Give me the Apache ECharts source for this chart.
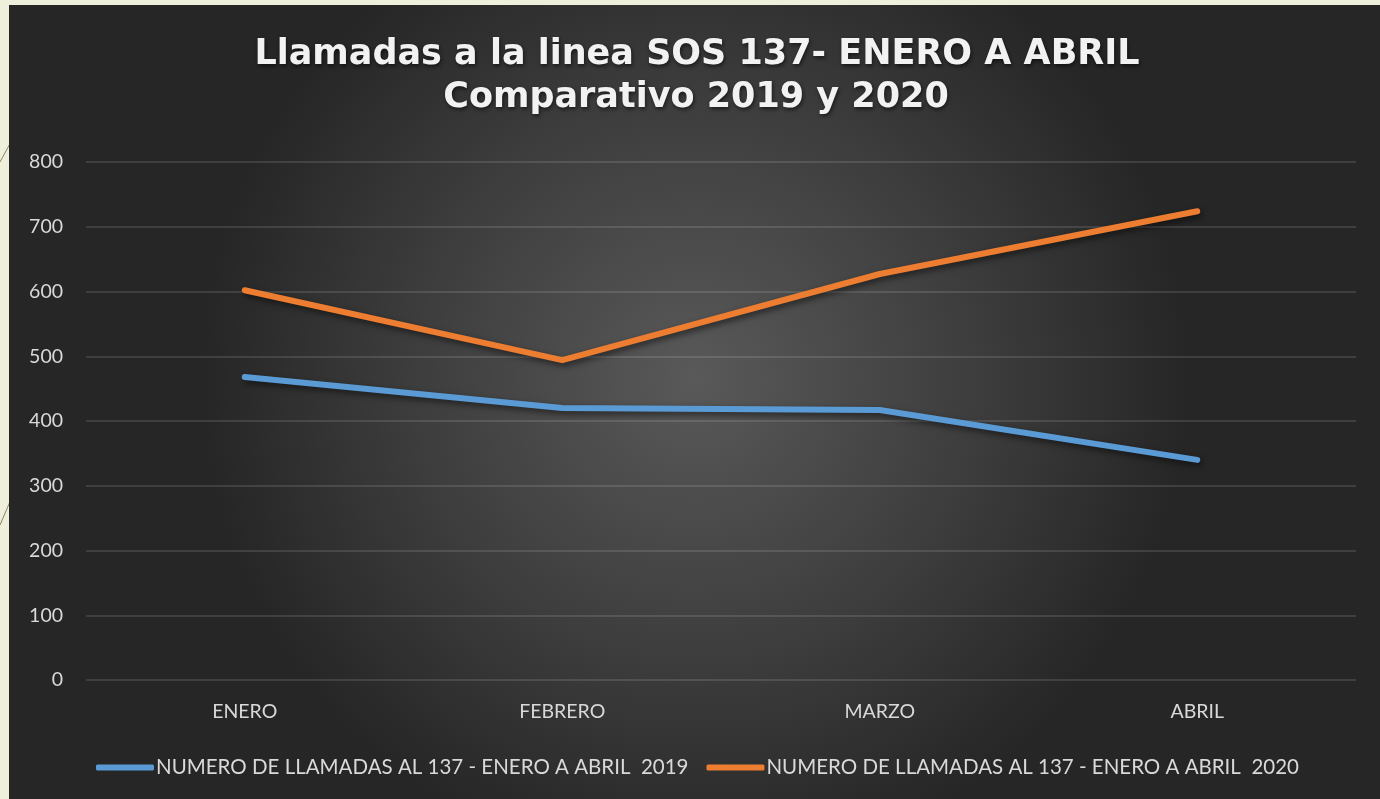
<!DOCTYPE html>
<html>
<head>
<meta charset="utf-8">
<script src="https://cdn.jsdelivr.net/npm/echarts@6/dist/echarts.min.js"></script>
<style>
html,body{margin:0;padding:0;background:#eef0dc;}
#chart{width:1380px;height:799px;}
</style>
</head>
<body>
<div id="chart"></div>
<script>
const categories = ['ENERO', 'FEBRERO', 'MARZO', 'ABRIL'];
const series2019 = [468, 420, 417, 340];
const series2020 = [602, 494, 627, 724];
const seriesNames = ['NUMERO DE LLAMADAS AL 137 - ENERO A ABRIL  2019', 'NUMERO DE LLAMADAS AL 137 - ENERO A ABRIL  2020'];
const titleLines = ['Llamadas a la linea SOS 137- ENERO A ABRIL', 'Comparativo 2019 y 2020'];

const chart = echarts.init(document.getElementById('chart'), null, {renderer: 'canvas'});
const labelFont = 'Lato, "Open Sans", sans-serif';
const lineShadow = {shadowColor: 'rgba(0,0,0,0.55)', shadowBlur: 6, shadowOffsetX: 2, shadowOffsetY: 3};
const titleStyle = {
  font: 'bold 35px "DejaVu Sans", sans-serif',
  fill: '#f2f2f2',
  textAlign: 'center',
  textVerticalAlign: 'middle',
  textShadowColor: 'rgba(0,0,0,0.6)',
  textShadowBlur: 4,
  textShadowOffsetX: 1,
  textShadowOffsetY: 2
};

chart.setOption({
  backgroundColor: '#eef0dc',
  graphic: [
    {type: 'line', silent: true, z: -2, shape: {x1: 0, y1: 162, x2: 12, y2: 140}, style: {stroke: '#8a8560', lineWidth: 1}},
    {type: 'line', silent: true, z: -2, shape: {x1: 0, y1: 525, x2: 12, y2: 497}, style: {stroke: '#8a8560', lineWidth: 1}},
    {type: 'rect', silent: true, z: -1, shape: {x: 9, y: 5, width: 1371, height: 794},
      style: {fill: new echarts.graphic.RadialGradient(0.5, 0.47, 0.62, [
        {offset: 0, color: '#595959'},
        {offset: 0.55, color: '#3e3e3e'},
        {offset: 1, color: '#262626'}
      ])}},
    {type: 'text', silent: true, z: 10, x: 697, y: 55, style: Object.assign({text: titleLines[0]}, titleStyle)},
    {type: 'text', silent: true, z: 10, x: 696, y: 98, style: Object.assign({text: titleLines[1]}, titleStyle)}
  ],
  legend: {
    bottom: 16,
    left: 91,
    itemWidth: 58,
    itemHeight: 6,
    itemGap: 18,
    icon: 'roundRect',
    textStyle: {color: '#d9d9d9', fontSize: 20.5, fontFamily: labelFont, padding: [0, 0, 0, -3]},
    data: seriesNames
  },
  grid: {left: 86, right: 24, top: 162, bottom: 119, containLabel: false},
  xAxis: {
    type: 'category',
    data: categories,
    boundaryGap: true,
    axisLine: {show: false},
    axisTick: {show: false},
    axisLabel: {color: '#d9d9d9', fontSize: 19.5, fontFamily: labelFont, margin: 22}
  },
  yAxis: {
    type: 'value',
    min: 0,
    max: 800,
    interval: 100,
    axisLine: {show: false},
    axisTick: {show: false},
    axisLabel: {color: '#d9d9d9', fontSize: 19.5, fontFamily: labelFont, margin: 23},
    splitLine: {lineStyle: {color: 'rgba(255,255,255,0.16)', width: 1.5}}
  },
  series: [
    {
      name: seriesNames[0],
      type: 'line',
      data: series2019,
      symbol: 'none',
      color: '#5b9bd5',
      lineStyle: Object.assign({width: 6, color: '#5b9bd5', cap: 'round', join: 'round'}, lineShadow)
    },
    {
      name: seriesNames[1],
      type: 'line',
      data: series2020,
      symbol: 'none',
      color: '#ed7d31',
      lineStyle: Object.assign({width: 6, color: '#ed7d31', cap: 'round', join: 'round'}, lineShadow)
    }
  ],
  animation: false
});
</script>
</body>
</html>
